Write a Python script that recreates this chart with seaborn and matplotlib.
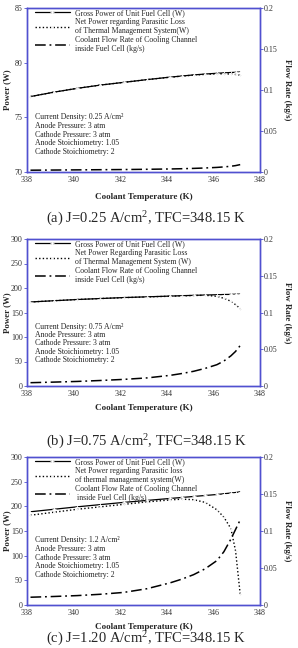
import numpy as np
import pandas as pd
import matplotlib
matplotlib.use("Agg")
import matplotlib.pyplot as plt
import seaborn as sns

sns.set_theme(style="white")
plt.rcParams['font.family'] = ['Liberation Serif', 'DejaVu Serif']
plt.rcParams['mathtext.fontset'] = 'custom'
plt.rcParams['mathtext.rm'] = 'Liberation Serif'
plt.rcParams['mathtext.it'] = 'Liberation Serif:italic'
plt.rcParams['mathtext.bf'] = 'Liberation Serif:bold'

# ---------------- data ----------------
temperature = [338.15, 339.15, 340.15, 341.15, 342.15, 343.15, 344.15, 344.65,
               345.15, 345.65, 346.15, 346.45, 346.75, 346.95, 347.15]

gross_a = [76.9, 77.3, 77.65, 77.95, 78.2, 78.45, 78.68, 78.78, 78.88, 78.96, 79.03, 79.07, 79.1, 79.12, 79.15]
net_a = [76.9, 77.3, 77.65, 77.95, 78.2, 78.45, 78.67, 78.77, 78.86, 78.93, 78.98, 78.98, 78.96, 78.92, 78.85]
flow_a = [0.0022, 0.0024, 0.0026, 0.0028, 0.003, 0.0033, 0.0037, 0.004, 0.0044, 0.0049, 0.0056, 0.0062, 0.007, 0.0078, 0.009]

gross_b = [171.5, 174, 176.5, 178.5, 180.5, 182, 183.5, 184.3, 185, 185.7, 186.3, 186.7, 187, 187.3, 187.5]
net_b = [171.5, 174, 176.5, 178.5, 180.3, 181.8, 183.2, 184, 184.7, 185.2, 183, 179, 173, 166, 158]
flow_b = [0.0045, 0.0053, 0.0062, 0.0075, 0.009, 0.011, 0.0145, 0.017, 0.02, 0.024, 0.029, 0.034, 0.041, 0.047, 0.055]

gross_c = [189, 194, 199, 203.5, 208, 212, 216, 218, 220, 222, 224, 225.5, 227, 228, 229.5]
net_c = [182, 188, 194, 199, 204, 209, 213, 214.5, 213.5, 208, 193, 178, 155, 110, 22]
flow_c = [0.0105, 0.0115, 0.0127, 0.0145, 0.017, 0.022, 0.030, 0.035, 0.041, 0.049, 0.060, 0.072, 0.089, 0.102, 0.115]

x_ticks = [338, 340, 342, 344, 346, 348]
flow_ticks = [0, 0.05, 0.1, 0.15, 0.2]
flow_tick_labels = ["0", "0.05", "0.1", "0.15", "0.2"]

panels = [
    dict(gross=gross_a, net=net_a, flow=flow_a,
         ylim=(70, 85), yticks=[70, 75, 80, 85],
         labels=["Gross Power of Unit Fuel Cell (W)",
                 "Net Power regarding Parasitic Loss\nof Thermal Management System(W)",
                 "Coolant Flow Rate of Cooling Channel\ninside Fuel Cell (kg/s)"],
         info=["Current Density: 0.25 A/cm²", "Anode Pressure: 3 atm",
               "Cathode Pressure: 3 atm", "Anode Stoichiometry: 1.05",
               "Cathode Stoichiometry: 2"],
         info_y=117, info_dy=8.8,
         caption="(a) J=0.25 A/cm$^2$, TFC=348.15 K",
         rect=[27, 8, 260, 172], xlab_y=197, cap_y=219),
    dict(gross=gross_b, net=net_b, flow=flow_b,
         ylim=(0, 300), yticks=[0, 50, 100, 150, 200, 250, 300],
         labels=["Gross Power of Unit Fuel Cell (W)",
                 "Net Power Regarding Parasitic Loss\nof Thermal Management System (W)",
                 "Coolant Flow Rate of Cooling Channel\ninside Fuel Cell (kg/s)"],
         info=["Current Density: 0.75 A/cm²", "Anode Pressure: 3 atm",
               "Cathode Pressure: 3 atm", "Anode Stoichiometry: 1.05",
               "Cathode Stoichiometry: 2"],
         info_y=327, info_dy=8.2,
         caption="(b) J=0.75 A/cm$^2$, TFC=348.15 K",
         rect=[27, 239, 260, 386], xlab_y=408, cap_y=442),
    dict(gross=gross_c, net=net_c, flow=flow_c,
         ylim=(0, 300), yticks=[0, 50, 100, 150, 200, 250, 300],
         labels=["Gross Power of Unit Fuel Cell (W)",
                 "Net Power regarding Parasitic loss\nof thermal management system(W)",
                 "Coolant Flow Rate of Cooling Channel\n inside Fuel Cell (kg/s)"],
         info=["Current Density: 1.2 A/cm²", "Anode Pressure: 3 atm",
               "Cathode Pressure: 3 atm", "Anode Stoichiometry: 1.05",
               "Cathode Stoichiometry: 2"],
         info_y=540, info_dy=8.8,
         caption="(c) J=1.20 A/cm$^2$, TFC=348.15 K",
         rect=[27, 457, 260, 605], xlab_y=627, cap_y=639),
]

W, H = 298, 648
fig = plt.figure(figsize=(W / 100, H / 100), dpi=100)
spine_col = "#5050d0"
fs_tick = 5.8
fs_leg = 5.6

for p in panels:
    l, t, r, b = p["rect"]
    ax = fig.add_axes([l / W, 1 - b / H, (r - l) / W, (b - t) / H])
    ax2 = ax.twinx()
    df = pd.DataFrame({"T": temperature, "gross": p["gross"], "net": p["net"], "flow": p["flow"]})
    sns.lineplot(data=df, x="T", y="gross", ax=ax, color="black", lw=0.9,
                 marker="+", markersize=2.5, markeredgewidth=0.6, label=p["labels"][0], legend=False)
    sns.lineplot(data=df, x="T", y="net", ax=ax, color="black", lw=1.0,
                 linestyle=(0, (1, 1.6)), marker=".", markersize=2, label=p["labels"][1], legend=False)
    sns.lineplot(data=df, x="T", y="flow", ax=ax2, color="black", lw=1.1,
                 linestyle=(0, (7, 2.5, 1.2, 2.5)), label=p["labels"][2], legend=False)
    ax.set_xlim(338, 348)
    ax.set_ylim(*p["ylim"])
    ax.set_yticks(p["yticks"])
    ax.set_xticks(x_ticks)
    ax2.set_ylim(0, 0.2)
    ax2.set_yticks(flow_ticks)
    ax2.set_yticklabels(flow_tick_labels)
    ax.set_xlabel("")
    ax.set_ylabel("")
    ax2.set_ylabel("")
    for a in (ax, ax2):
        for s in a.spines.values():
            s.set_color(spine_col)
            s.set_linewidth(1.0)
        a.tick_params(labelsize=fs_tick, length=2, width=0.6, pad=1,
                      color=spine_col, labelcolor="#333333", direction="out")
    h1, lab1 = ax.get_legend_handles_labels()
    h2, lab2 = ax2.get_legend_handles_labels()
    leg = ax2.legend(h1 + h2, lab1 + lab2, loc="upper left", frameon=False,
                     bbox_to_anchor=(0.03, 1.0),
                     fontsize=fs_leg, handlelength=4.5, handletextpad=0.65,
                     labelspacing=0.2, borderaxespad=0.0, borderpad=0.1)
    for txt in leg.get_texts():
        txt.set_linespacing(1.1)
    for i, line in enumerate(p["info"]):
        y = p["info_y"] + i * p["info_dy"]
        fig.text(35 / W, 1 - y / H, line, fontsize=fs_leg, va="center",
                 ha="left", color="#222222")
    cy = (t + b) / 2
    fig.text(7 / W, 1 - cy / H, "Power (W)", rotation=90, fontsize=6.3,
             fontweight="bold", ha="center", va="center")
    fig.text(287 / W, 1 - cy / H, "Flow Rate (kg/s)", rotation=270, fontsize=6.3,
             fontweight="bold", ha="center", va="center")
    fig.text(((l + r) / 2) / W, 1 - p["xlab_y"] / H, "Coolant Temperature (K)",
             fontsize=6.5, fontweight="bold", ha="center", va="center")
    fig.text(146 / W, 1 - p["cap_y"] / H, p["caption"], fontsize=10.5,
             ha="center", va="center")

fig.savefig("out.png", dpi=100)
